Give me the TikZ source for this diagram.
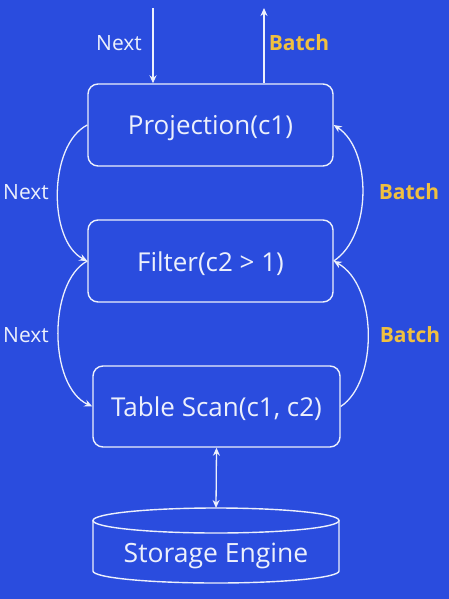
\documentclass[tikz,border=0pt]{standalone}
\usepackage{fontspec}
\setmainfont{Open Sans}
\usetikzlibrary{arrows.meta}
\definecolor{bgblue}{RGB}{42,76,222}
\definecolor{batchy}{RGB}{240,192,64}
\definecolor{linew}{RGB}{236,240,252}
\begin{document}
\begin{tikzpicture}[x=1pt,y=-1pt,
  boxnode/.style={draw=linew, line width=1.4pt, rounded corners=10pt,
    minimum width=245pt, minimum height=82pt, text=linew,
    font=\fontsize{26}{30}\selectfont, inner sep=0pt,
    text height=22pt, text depth=2pt},
  conn/.style={draw=linew, line width=1.3pt, -{Stealth[length=8pt,width=7pt]}},
  nextlbl/.style={text=linew, font=\fontsize{21}{24}\selectfont, inner sep=0pt},
  batchlbl/.style={text=batchy, font=\fontsize{21}{24}\bfseries\selectfont, inner sep=0pt},
  cylline/.style={draw=linew, line width=1.4pt}]
\fill[bgblue] (0,0) rectangle (449,599);
\useasboundingbox (0,0) rectangle (449,599);

\node[boxnode] (proj) at (210.5,125) {Projection(c1)};
\node[boxnode] (filt) at (210.5,261) {Filter(c2 > 1)};
\node[boxnode, minimum width=247pt, minimum height=81pt] (scan) at (216.5,406.5) {Table Scan(c1, c2)};

% storage cylinder
\coordinate (cyltop) at (216,508);
\draw[cylline] (216,520.5) ellipse [x radius=123, y radius=12.5];
\draw[cylline] (93,520.5) -- (93,571) arc[start angle=180, end angle=0, x radius=123, y radius=12] -- (339,520.5);
\node[text=linew, font=\fontsize{26.5}{30}\selectfont, inner sep=0pt] (stor) at (216,556) {Storage Engine};

% top arrows
\coordinate (nin) at (153,8);
\coordinate (bout) at (264,8);
\draw[conn] (nin) -- (nin |- proj.north);
\draw[conn] (bout |- proj.north) -- (bout);
\node[nextlbl] (n0) at (119,43) {Next};
\node[batchlbl] (b0) at (299,43) {Batch};

% left curves (Next)
\draw[conn] (proj.west) .. controls (48,145) and (48,241) .. (filt.west);
\draw[conn] (filt.west) .. controls (48,282) and (48,386) .. (scan.west);
\node[nextlbl] (n1) at (26,192) {Next};
\node[nextlbl] (n2) at (26,335) {Next};

% right curves (Batch)
\draw[conn] (filt.east) .. controls (372,236) and (372,150) .. (proj.east);
\draw[conn] (scan.east) .. controls (378,382) and (378,286) .. (filt.east);
\node[batchlbl] (b1) at (409,192) {Batch};
\node[batchlbl] (b2) at (410,335) {Batch};

% scan <-> storage
\draw[conn, {Stealth[length=8pt,width=7pt]}-{Stealth[length=8pt,width=7pt]}] (scan.south) -- (cyltop);
\end{tikzpicture}
\end{document}
